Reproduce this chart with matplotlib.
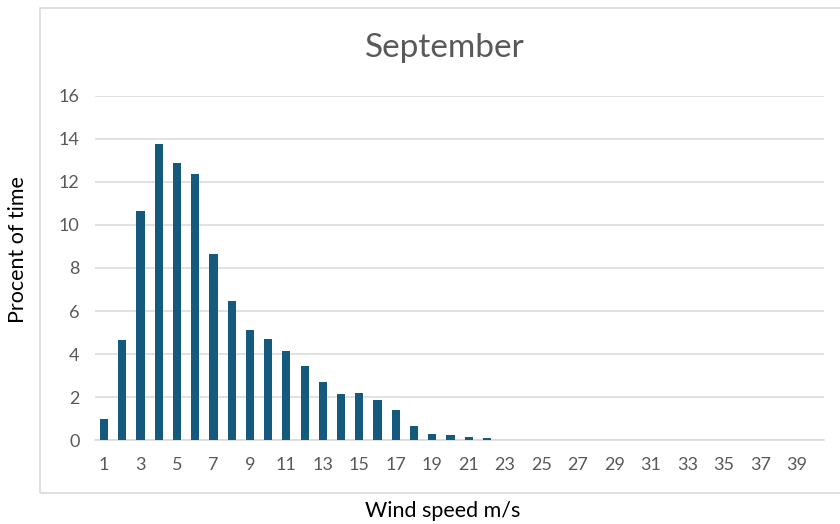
import matplotlib
matplotlib.use("Agg")
import matplotlib.pyplot as plt
from matplotlib.patches import Rectangle

plt.rcParams['font.family'] = ['Lato', 'DejaVu Sans']

# wind speed classes 1..40 m/s and share of time (%)
wind_speed = list(range(1, 41))
percent = [1.0, 4.65, 10.65, 13.75, 12.9, 12.35, 8.65, 6.45, 5.1, 4.7,
           4.15, 3.45, 2.7, 2.15, 2.2, 1.85, 1.4, 0.65, 0.3, 0.25,
           0.15, 0.1, 0, 0, 0, 0, 0, 0, 0, 0,
           0, 0, 0, 0, 0, 0, 0, 0, 0, 0]
tick_labels = [str(v) for v in range(1, 41, 2)]

grey = '#595959'
bar_color = '#155a7c'

fig = plt.figure(figsize=(8.4, 5.24), dpi=100)
ax = fig.add_axes([0.1131, 0.1603, 0.8679, 0.6565])

# chart border like the spreadsheet chart box
fig.patches.append(Rectangle((40 / 840, 1 - 493 / 524), 1.0, (493 - 8) / 524,
                             transform=fig.transFigure, fill=False,
                             edgecolor='#d9d9d9', linewidth=1.2))

ax.bar(wind_speed, percent, width=0.45, color=bar_color, zorder=3)

ax.set_xlim(0.5, 40.5)
ax.set_ylim(0, 16)
ax.set_yticks(range(0, 17, 2))
ax.set_xticks(range(1, 41, 2))
ax.set_xticklabels(tick_labels)
ax.grid(axis='y', color='#d9d9d9', linewidth=1.1, zorder=0)
for s in ['top', 'right', 'left']:
    ax.spines[s].set_visible(False)
ax.spines['bottom'].set_color('#d9d9d9')
ax.spines['bottom'].set_linewidth(1.1)
ax.tick_params(axis='both', length=0, labelsize=13, colors=grey)
ax.tick_params(axis='x', pad=12)
ax.tick_params(axis='y', pad=11)

fig.text(445 / 840, 1 - 48 / 524, 'September', ha='center', va='center',
         fontsize=24, color=grey)
fig.text(443 / 840, 1 - 511 / 524, 'Wind speed m/s', ha='center', va='center',
         fontsize=15.5, color='black')
fig.text(18 / 840, 1 - 250 / 524, 'Procent of time', ha='center', va='center',
         rotation=90, fontsize=15.5, color='black')

fig.savefig('out.png', dpi=100)
